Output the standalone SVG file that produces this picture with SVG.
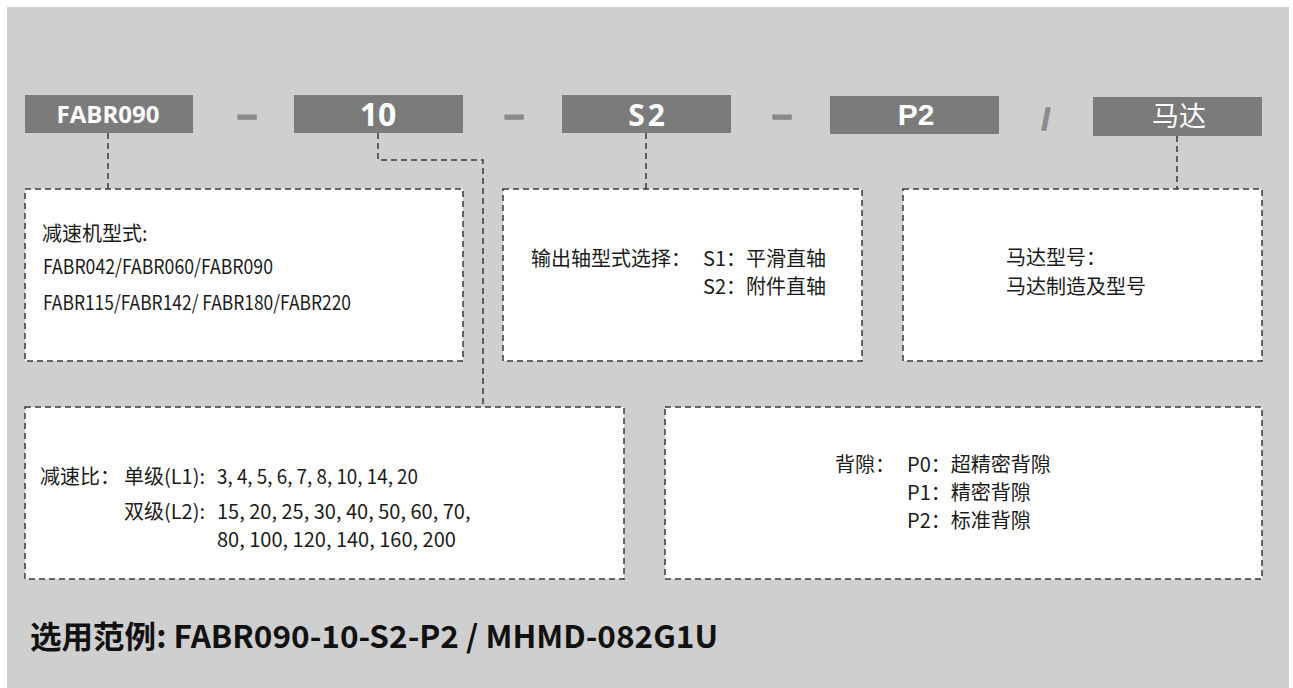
<svg xmlns="http://www.w3.org/2000/svg" width="1293" height="688" viewBox="0 0 1293 688">
<style>
.tag{fill:#7b7b7b}
.tt{fill:#ffffff;font-family:"Open Sans","Noto Sans CJK SC",sans-serif;font-weight:bold;text-anchor:middle}
.sep{fill:#8a8a8a;stroke:#8a8a8a;stroke-width:1.5;font-family:"Liberation Sans",sans-serif;font-weight:bold;text-anchor:middle}
.box{fill:#ffffff;stroke:#3a3a3a;stroke-width:1.5;stroke-dasharray:6 4}
.con{fill:none;stroke:#3a3a3a;stroke-width:1.5;stroke-dasharray:6 4}
.t{fill:#1a1a1a;font-family:"Noto Sans CJK SC","Noto Sans",sans-serif;font-size:20px}
.title{fill:#111111;font-family:"Noto Sans CJK SC",sans-serif;font-weight:bold;font-size:31px}
</style>
<rect x="0" y="0" width="1293" height="688" fill="#ffffff"/>
<rect x="7" y="7" width="1282" height="681" fill="#cfcfcf"/>

<g id="connectors">
<path class="con" d="M108 133 V189"/>
<path class="con" d="M378 133 V160 H483 V407"/>
<path class="con" d="M646 133 V189"/>
<path class="con" d="M1177 136 V189"/>
</g>

<g id="separators">
<text class="sep" x="247" y="127" font-size="36">–</text>
<text class="sep" x="514" y="127" font-size="36">–</text>
<text class="sep" x="782" y="127" font-size="36">–</text>
<text class="sep" x="1046" y="130" font-size="30">/</text>
</g>

<g id="tag-fabr">
<rect class="tag" x="25" y="95" width="168" height="38"/>
<text class="tt" x="108" y="123" font-size="24">FABR090</text>
</g>
<g id="tag-ratio">
<rect class="tag" x="294" y="95" width="169" height="38"/>
<text class="tt" x="378" y="126" font-size="32">10</text>
</g>
<g id="tag-shaft">
<rect class="tag" x="562" y="95" width="169" height="38"/>
<text class="tt" x="648" y="126" font-size="30" letter-spacing="3">S2</text>
</g>
<g id="tag-backlash">
<rect class="tag" x="830" y="96" width="169" height="38"/>
<text class="tt" x="916" y="125" font-size="30" style="font-family:'Liberation Sans',sans-serif">P2</text>
</g>
<g id="tag-motor">
<rect class="tag" x="1093" y="97" width="169" height="39"/>
<text class="tt" x="1179" y="126" font-size="27" style="font-weight:normal;font-family:'Noto Sans CJK SC',sans-serif">马达</text>
</g>

<g id="box-model">
<rect class="box" x="25" y="189" width="438" height="172"/>
<text class="t" x="42" y="241">减速机型式:</text>
<text class="t" x="43" y="274" textLength="230" lengthAdjust="spacingAndGlyphs">FABR042/FABR060/FABR090</text>
<text class="t" x="43" y="310" textLength="308" lengthAdjust="spacingAndGlyphs">FABR115/FABR142/ FABR180/FABR220</text>
</g>
<g id="box-shaft">
<rect class="box" x="503" y="189" width="359" height="172"/>
<text class="t" x="531" y="266">输出轴型式选择：</text>
<text class="t" x="703" y="266">S1：平滑直轴</text>
<text class="t" x="703" y="294">S2：附件直轴</text>
</g>
<g id="box-motor">
<rect class="box" x="903" y="189" width="359" height="172"/>
<text class="t" x="1006" y="265">马达型号：</text>
<text class="t" x="1006" y="294">马达制造及型号</text>
</g>
<g id="box-ratio">
<rect class="box" x="25" y="407" width="599" height="172"/>
<text class="t" x="40" y="484">减速比：</text>
<text class="t" x="124" y="484">单级(L1):</text>
<text class="t" x="217" y="484" textLength="201" lengthAdjust="spacingAndGlyphs">3, 4, 5, 6, 7, 8, 10, 14, 20</text>
<text class="t" x="124" y="519">双级(L2):</text>
<text class="t" x="217" y="519">15, 20, 25, 30, 40, 50, 60, 70,</text>
<text class="t" x="217" y="547">80, 100, 120, 140, 160, 200</text>
</g>
<g id="box-backlash">
<rect class="box" x="665" y="407" width="597" height="172"/>
<text class="t" x="835" y="472">背隙：</text>
<text class="t" x="907" y="472">P0：超精密背隙</text>
<text class="t" x="907" y="500">P1：精密背隙</text>
<text class="t" x="907" y="528">P2：标准背隙</text>
</g>

<text class="title" x="30" y="648" textLength="688" lengthAdjust="spacingAndGlyphs">选用范例: FABR090-10-S2-P2 / MHMD-082G1U</text>
</svg>
